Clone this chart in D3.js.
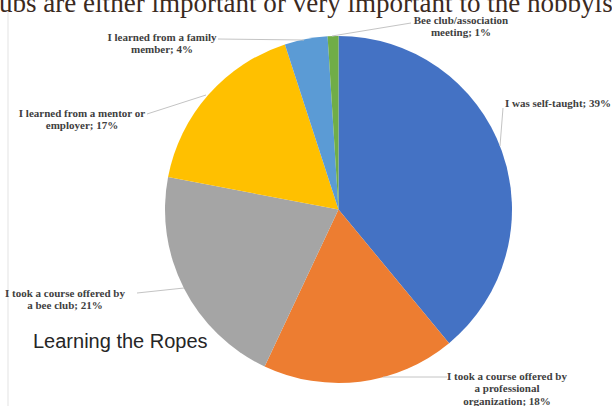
<!DOCTYPE html>
<html>
<head lang="en">
	<meta charset="UTF-8">
	<title>Learning the Ropes</title>
	<script src="https://cdn.jsdelivr.net/npm/d3@7/dist/d3.min.js"></script>
	<style>
		body { margin: 0; background: #fff; }
	</style>
</head>
<body>

<script>

	// slices, clockwise from 12 o'clock
	var categories = [
		"I was self-taught",
		"I took a course offered by a professional organization",
		"I took a course offered by a bee club",
		"I learned from a mentor or employer",
		"I learned from a family member",
		"Bee club/association meeting"
	];
	var values = [39, 18, 21, 17, 4, 1];
	var colors = ["#4472c4", "#ed7d31", "#a5a5a5", "#ffc000", "#5b9bd5", "#70ad47"];

	// label lines as they wrap in the picture
	var labelLines = [
		["I was self-taught; 39%"],
		["I took a course offered by", "a professional", "organization; 18%"],
		["I took a course offered by", "a bee club; 21%"],
		["I learned from a mentor or", "employer; 17%"],
		["I learned from a family", "member; 4%"],
		["Bee club/association", "meeting; 1%"]
	];

	var W = 612, H = 406;
	var cx = 338.5, cy = 209.5, R = 173.5;

	var svg = d3.select("body").append("svg")
			.attr("width", W).attr("height", H);

	// faint frame line on the left
	svg.append("line")
			.attr("x1", 8).attr("x2", 8).attr("y1", 12).attr("y2", H)
			.style("stroke", "#ececec").style("stroke-width", 1.5);

	// cropped heading from the page above
	var head = svg.append("text")
			.attr("y", 12)
			.style("font-family", "'Liberation Serif', 'DejaVu Serif', serif")
			.style("font-size", "24px")
			.style("fill", "#3b2a1e")
			.text("clubs are either important or very important to the hobbyists");
	// size so that "ubs ... hobbyis" fills the width like the crop
	var visW = head.node().getSubStringLength(2, 57);
	var fs = 24 * 614 / visW;
	head.style("font-size", fs + "px");
	head.attr("x", -head.node().getSubStringLength(0, 2) - 1);

	var pie = d3.pie().sort(null).value(function (d) { return d; });
	var arcs = pie(values);
	var arc = d3.arc().innerRadius(0).outerRadius(R);

	var g = svg.append("g").attr("transform", "translate(" + cx + "," + cy + ")");
	g.selectAll("path")
			.data(arcs)
			.enter().append("path")
			.attr("d", arc)
			.style("fill", function (d, i) { return colors[i]; });

	// label anchor (centre of first line baseline), leader end at label
	var labelPos = [
		{x: 558, y: 107, lx: 503, ly: 108, px: 500, py: 146},
		{x: 507, y: 380, lx: 447, ly: 377, px: 383, py: 377},
		{x: 65, y: 297, lx: 137, ly: 293, px: 184, py: 288},
		{x: 82, y: 117, lx: 147, ly: 114, px: 206, py: 95},
		{x: 162, y: 41, lx: 218, ly: 39, px: 304, py: 40},
		{x: 461, y: 24, lx: 411, ly: 23, px: 332, py: 36}
	];

	svg.selectAll("line.leader")
			.data(arcs)
			.enter().append("line")
			.attr("class", "leader")
			.attr("x1", function (d, i) { return labelPos[i].px; })
			.attr("y1", function (d, i) { return labelPos[i].py; })
			.attr("x2", function (d, i) { return labelPos[i].lx; })
			.attr("y2", function (d, i) { return labelPos[i].ly; })
			.style("stroke", "#c4c4c4")
			.style("stroke-width", 1);

	var lbl = svg.selectAll("text.lbl")
			.data(labelLines)
			.enter().append("text")
			.attr("class", "lbl")
			.attr("text-anchor", "middle")
			.attr("x", function (d, i) { return labelPos[i].x; })
			.attr("y", function (d, i) { return labelPos[i].y; })
			.style("font-family", "'Liberation Serif', 'DejaVu Serif', serif")
			.style("font-weight", "bold")
			.style("font-size", "11px")
			.style("fill", "#404040");

	lbl.selectAll("tspan")
			.data(function (d, i) { return d.map(function (s) { return {s: s, i: i}; }); })
			.enter().append("tspan")
			.attr("x", function (d) { return labelPos[d.i].x; })
			.attr("dy", function (d, j) { return j === 0 ? 0 : 12.3; })
			.text(function (d) { return d.s; });

	svg.append("text")
			.attr("x", 33).attr("y", 348)
			.style("font-family", "'Liberation Sans', Arial, sans-serif")
			.style("font-size", "20px")
			.style("fill", "#262626")
			.text("Learning the Ropes");

</script>

</body>
</html>
